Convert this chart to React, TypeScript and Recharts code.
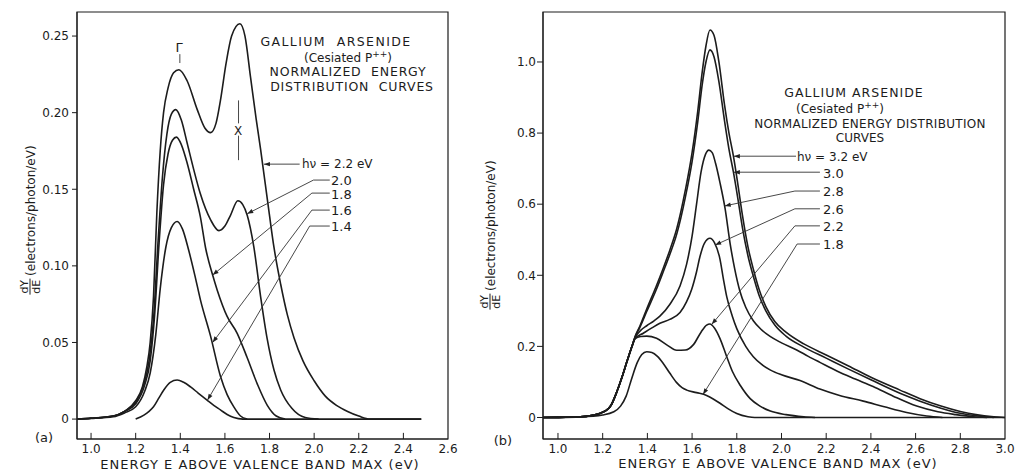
import React from "react";
import { LineChart, Line, XAxis, YAxis, ReferenceArea, ReferenceLine } from "recharts";

type Pt = [number, number];

const FONT = '"DejaVu Sans", "Liberation Sans", sans-serif';
const INK = "#1c1c1c";

// ---------- panel (a): hv = 2.2 ... 1.4 eV, [E (eV), dY/dE] ----------
const A_X_DOMAIN: [number, number] = [0.937, 2.6];
const A_Y_DOMAIN: [number, number] = [-0.013, 0.2657];
const A_X_TICKS = [1.0, 1.2, 1.4, 1.6, 1.8, 2.0, 2.2, 2.4, 2.6];
const A_Y_TICKS = [0, 0.05, 0.1, 0.15, 0.2, 0.25];

const A_22: Pt[] = [
  [0.937, 0], [1.0, 0.0006], [1.1, 0.002], [1.15, 0.005], [1.2, 0.012], [1.23, 0.021],
  [1.25, 0.034], [1.265, 0.05], [1.28, 0.08], [1.295, 0.135], [1.31, 0.175], [1.325, 0.2],
  [1.345, 0.216], [1.37, 0.226], [1.394, 0.228], [1.43, 0.221], [1.476, 0.202], [1.51, 0.19],
  [1.536, 0.187], [1.56, 0.193], [1.58, 0.208], [1.605, 0.232], [1.63, 0.25], [1.667, 0.258],
  [1.69, 0.25], [1.715, 0.223], [1.74, 0.196], [1.76, 0.176], [1.797, 0.136], [1.82, 0.112],
  [1.85, 0.088], [1.88, 0.068], [1.91, 0.053], [1.95, 0.038], [2.0, 0.025], [2.05, 0.015],
  [2.1, 0.009], [2.15, 0.005], [2.2, 0.002], [2.25, 0], [2.48, 0],
];
const A_20: Pt[] = [
  [0.937, 0], [1.0, 0.0005], [1.1, 0.002], [1.15, 0.005], [1.2, 0.011], [1.235, 0.022],
  [1.26, 0.038], [1.28, 0.065], [1.3, 0.115], [1.32, 0.158], [1.34, 0.186], [1.36, 0.199],
  [1.38, 0.202], [1.405, 0.195], [1.431, 0.18], [1.46, 0.163], [1.49, 0.147], [1.536, 0.13],
  [1.573, 0.123], [1.6, 0.126], [1.625, 0.133], [1.658, 0.1425], [1.68, 0.14], [1.7, 0.133],
  [1.73, 0.112], [1.76, 0.08], [1.79, 0.052], [1.82, 0.032], [1.85, 0.019], [1.9, 0.007],
  [1.96, 0.001], [2.02, 0],
];
const A_18: Pt[] = [
  [0.937, 0], [1.0, 0.0005], [1.1, 0.002], [1.15, 0.005], [1.2, 0.01], [1.24, 0.022],
  [1.265, 0.038], [1.285, 0.068], [1.305, 0.115], [1.325, 0.153], [1.345, 0.173], [1.365, 0.182],
  [1.383, 0.184], [1.405, 0.179], [1.431, 0.167], [1.46, 0.15], [1.49, 0.132], [1.513, 0.112],
  [1.545, 0.094], [1.566, 0.084], [1.61, 0.067], [1.655, 0.056], [1.7, 0.04], [1.745, 0.023],
  [1.79, 0.009], [1.83, 0.002], [1.87, 0],
];
const A_16: Pt[] = [
  [0.937, 0], [1.0, 0.0004], [1.1, 0.0015], [1.15, 0.004], [1.2, 0.008], [1.24, 0.018],
  [1.265, 0.03], [1.29, 0.055], [1.31, 0.085], [1.335, 0.112], [1.36, 0.125], [1.386, 0.129],
  [1.41, 0.124], [1.438, 0.11], [1.465, 0.094], [1.49, 0.078], [1.536, 0.054], [1.58, 0.028],
  [1.61, 0.016], [1.64, 0.008], [1.67, 0.002], [1.7, 0],
];
const A_14: Pt[] = [
  [1.2, 0], [1.237, 0.0026], [1.26, 0.005], [1.28, 0.008], [1.305, 0.014], [1.326, 0.019],
  [1.355, 0.024], [1.386, 0.0255], [1.415, 0.024], [1.446, 0.021], [1.48, 0.017], [1.52, 0.0124],
  [1.55, 0.009], [1.58, 0.006], [1.61, 0.003], [1.64, 0.001], [1.68, 0], [2.48, 0],
];
const A_CURVES = [A_22, A_20, A_18, A_16, A_14];

// leader lines, label end first, arrow tip last
const A_LEADERS: Pt[][] = [
  [[1.935, 0.1664], [1.775, 0.1664]],
  [[2.07, 0.156], [1.997, 0.156], [1.7, 0.134]],
  [[2.07, 0.1475], [1.99, 0.1475], [1.545, 0.094]],
  [[2.07, 0.1364], [1.99, 0.1364], [1.545, 0.05]],
  [[2.07, 0.126], [1.98, 0.126], [1.522, 0.0124]],
];
const A_LABELS = ["h\u03bd = 2.2 eV", "2.0", "1.8", "1.6", "1.4"];
// peak markers: Gamma tick, X dashes
const A_MARKS: Pt[][] = [
  [[1.398, 0.2382], [1.398, 0.2324]],
  [[1.661, 0.208], [1.661, 0.193]],
  [[1.661, 0.185], [1.661, 0.169]],
];

// ---------- panel (b): hv = 3.2 ... 1.8 eV ----------
const B_X_DOMAIN: [number, number] = [0.933, 3.0];
const B_Y_DOMAIN: [number, number] = [-0.0605, 1.1406];
const B_X_TICKS = [1.0, 1.2, 1.4, 1.6, 1.8, 2.0, 2.2, 2.4, 2.6, 2.8, 3.0];
const B_Y_TICKS = [0, 0.2, 0.4, 0.6, 0.8, 1.0];

const B_FOOT: Pt[] = [
  [0.933, 0], [1.0, 0.0003], [1.1, 0.002], [1.19, 0.012], [1.233, 0.03], [1.265, 0.075],
  [1.29, 0.12], [1.31, 0.16], [1.33, 0.198],
];
const B_32: Pt[] = [
  [1.345, 0.228], [1.367, 0.258], [1.397, 0.305], [1.44, 0.37], [1.471, 0.42], [1.5, 0.47],
  [1.531, 0.53], [1.57, 0.64], [1.6, 0.745], [1.625, 0.86], [1.645, 0.97], [1.662, 1.045],
  [1.68, 1.09], [1.698, 1.075], [1.72, 1.0], [1.745, 0.88], [1.765, 0.8], [1.785, 0.735],
  [1.805, 0.655], [1.825, 0.57], [1.85, 0.48], [1.875, 0.415], [1.9, 0.36], [1.93, 0.312],
  [1.97, 0.27], [2.02, 0.24], [2.1, 0.207], [2.2, 0.176], [2.3, 0.145], [2.4, 0.113],
  [2.53, 0.077], [2.62, 0.053], [2.71, 0.033], [2.8, 0.017], [2.87, 0.008], [2.95, 0.002], [3.0, 0],
];
const B_30: Pt[] = [
  [1.345, 0.226], [1.367, 0.254], [1.397, 0.298], [1.44, 0.36], [1.471, 0.41], [1.5, 0.458],
  [1.531, 0.515], [1.57, 0.62], [1.6, 0.72], [1.625, 0.83], [1.645, 0.935], [1.662, 1.0],
  [1.68, 1.034], [1.698, 1.015], [1.72, 0.945], [1.745, 0.835], [1.765, 0.755], [1.785, 0.69],
  [1.805, 0.615], [1.825, 0.535], [1.85, 0.455], [1.875, 0.395], [1.9, 0.343], [1.93, 0.3],
  [1.97, 0.26], [2.02, 0.229], [2.1, 0.198], [2.2, 0.167], [2.3, 0.136], [2.4, 0.106],
  [2.53, 0.068], [2.62, 0.046], [2.71, 0.027], [2.8, 0.012], [2.88, 0.004], [2.95, 0],
];
const B_28: Pt[] = [
  [1.345, 0.224], [1.37, 0.245], [1.397, 0.258], [1.43, 0.272], [1.456, 0.285], [1.5, 0.318],
  [1.546, 0.37], [1.575, 0.43], [1.6, 0.51], [1.62, 0.6], [1.64, 0.69], [1.66, 0.74],
  [1.675, 0.752], [1.69, 0.745], [1.705, 0.715], [1.725, 0.66], [1.747, 0.59], [1.77, 0.49],
  [1.79, 0.42], [1.814, 0.355], [1.84, 0.31], [1.874, 0.272], [1.91, 0.247], [1.949, 0.228],
  [2.0, 0.21], [2.068, 0.19], [2.12, 0.172], [2.172, 0.155], [2.25, 0.13], [2.33, 0.108],
  [2.41, 0.087], [2.5, 0.06], [2.605, 0.032], [2.7, 0.016], [2.78, 0.008], [2.86, 0.002], [2.92, 0],
];
const B_26: Pt[] = [
  [1.345, 0.222], [1.382, 0.237], [1.42, 0.252], [1.456, 0.265], [1.5, 0.276], [1.546, 0.295],
  [1.575, 0.325], [1.598, 0.36], [1.62, 0.41], [1.635, 0.452], [1.655, 0.49], [1.68, 0.504],
  [1.7, 0.492], [1.725, 0.445], [1.74, 0.39], [1.755, 0.34], [1.78, 0.285], [1.8, 0.25],
  [1.84, 0.2], [1.874, 0.171], [1.91, 0.15], [1.949, 0.134], [2.0, 0.12], [2.083, 0.104],
  [2.172, 0.08], [2.26, 0.062], [2.366, 0.046], [2.46, 0.03], [2.56, 0.014], [2.65, 0.004], [2.72, 0],
];
const B_22: Pt[] = [
  [1.345, 0.222], [1.37, 0.228], [1.397, 0.229], [1.441, 0.223], [1.49, 0.203], [1.531, 0.189],
  [1.57, 0.19], [1.606, 0.205], [1.64, 0.24], [1.665, 0.26], [1.68, 0.263], [1.7, 0.252],
  [1.725, 0.222], [1.755, 0.171], [1.78, 0.13], [1.816, 0.09], [1.86, 0.053], [1.904, 0.032],
  [1.95, 0.018], [2.02, 0.008], [2.1, 0.002], [2.15, 0],
];
const B_18: Pt[] = [
  [0.933, 0], [1.0, 0.0002], [1.1, 0.0015], [1.2, 0.007], [1.25, 0.016], [1.28, 0.032],
  [1.305, 0.06], [1.33, 0.11], [1.355, 0.155], [1.375, 0.177], [1.397, 0.185], [1.42, 0.183],
  [1.445, 0.172], [1.471, 0.152], [1.5, 0.125], [1.531, 0.098], [1.555, 0.084], [1.576, 0.077],
  [1.62, 0.07], [1.665, 0.062], [1.7, 0.05], [1.725, 0.04], [1.76, 0.025], [1.8, 0.011],
  [1.85, 0.002], [1.88, 0], [3.0, 0],
];
const B_CURVES = [
  [...B_FOOT, ...B_32],
  [...B_FOOT, ...B_30],
  [...B_FOOT, ...B_28],
  [...B_FOOT, ...B_26],
  [...B_FOOT, ...B_22],
  B_18,
];

const B_LEADERS: Pt[][] = [
  [[2.065, 0.735], [1.787, 0.735]],
  [[2.172, 0.69], [1.787, 0.69]],
  [[2.172, 0.637], [2.06, 0.637], [1.746, 0.595]],
  [[2.172, 0.587], [2.06, 0.587], [1.703, 0.485]],
  [[2.172, 0.539], [2.06, 0.539], [1.688, 0.262]],
  [[2.172, 0.488], [2.07, 0.488], [1.649, 0.065]],
];
const B_LABELS = ["h\u03bd = 3.2 eV", "3.0", "2.8", "2.6", "2.2", "1.8"];

const rows = (pts: Pt[]) => pts.map(([e, y]) => ({ e, y }));

const segShape = (arrow: boolean, color = "#333", w = 0.9) => (p: any) => {
  const { x1, y1, x2, y2 } = p;
  const dx = x2 - x1;
  const dy = y2 - y1;
  const len = Math.hypot(dx, dy) || 1;
  const ux = dx / len;
  const uy = dy / len;
  const bx = x2 - ux * 6;
  const by = y2 - uy * 6;
  return (
    <g>
      <line x1={x1} y1={y1} x2={x2} y2={y2} stroke={color} strokeWidth={w} />
      {arrow ? (
        <polygon
          points={`${x2},${y2} ${bx - uy * 2.2},${by + ux * 2.2} ${bx + uy * 2.2},${by - ux * 2.2}`}
          fill="#222"
        />
      ) : null}
    </g>
  );
};

function leaderLines(paths: Pt[][], prefix: string, arrows = true) {
  const out: React.ReactElement[] = [];
  paths.forEach((path, i) => {
    for (let k = 0; k < path.length - 1; k++) {
      const last = k === path.length - 2;
      out.push(
        <ReferenceLine
          key={`${prefix}${i}-${k}`}
          segment={[
            { x: path[k][0], y: path[k][1] },
            { x: path[k + 1][0], y: path[k + 1][1] },
          ]}
          shape={segShape(arrows && last)}
          ifOverflow="visible"
        />
      );
    }
  });
  return out;
}

// inward x ticks drawn up from the bottom frame
function innerTicks(ticks: number[], yMin: number, len: number, prefix: string) {
  return ticks.map((t) => (
    <ReferenceLine
      key={`${prefix}${t}`}
      segment={[
        { x: t, y: yMin },
        { x: t, y: yMin + len },
      ]}
      shape={segShape(false, INK, 1)}
      ifOverflow="visible"
    />
  ));
}

const tickStyle = { fill: INK, fontSize: 12, fontFamily: FONT };

function Txt({
  x,
  y,
  children,
  size = 13,
  align = "center",
  spacing = 0,
}: {
  x: number;
  y: number;
  children: React.ReactNode;
  size?: number;
  align?: "center" | "left";
  spacing?: number;
}) {
  return (
    <div
      style={{
        position: "absolute",
        left: x,
        top: y,
        transform: align === "center" ? "translate(-50%,-50%)" : "translate(0,-50%)",
        fontSize: size,
        fontFamily: FONT,
        color: INK,
        whiteSpace: "nowrap",
        letterSpacing: spacing,
        lineHeight: 1,
      }}
    >
      {children}
    </div>
  );
}

function YTitle({ x, y }: { x: number; y: number }) {
  return (
    <div
      style={{
        position: "absolute",
        left: x,
        top: y,
        transform: "translate(-50%,-50%) rotate(-90deg)",
        display: "flex",
        alignItems: "center",
        whiteSpace: "nowrap",
        fontSize: 12,
        fontFamily: FONT,
        color: INK,
      }}
    >
      <span
        style={{
          display: "inline-flex",
          flexDirection: "column",
          alignItems: "center",
          fontSize: 11,
          lineHeight: "11px",
          marginRight: 3,
        }}
      >
        <span style={{ borderBottom: `1px solid ${INK}`, padding: "0 1px" }}>dY</span>
        <span>dE</span>
      </span>
      <span>(electrons/photon/eV)</span>
    </div>
  );
}

const P = () => (
  <>
    P<sup style={{ fontSize: 9 }}>++</sup>
  </>
);

export default function App() {
  return (
    <div
      style={{
        position: "absolute",
        left: 0,
        top: 0,
        width: 1027,
        height: 472,
        background: "#fff",
        overflow: "hidden",
      }}
    >
      {/* panel (a) */}
      <div style={{ position: "absolute", left: 0, top: 0 }}>
        <LineChart width={520} height={472} margin={{ top: 12, right: 72, bottom: 13, left: 17 }}>
          <XAxis
            type="number"
            dataKey="e"
            domain={A_X_DOMAIN}
            ticks={A_X_TICKS}
            allowDataOverflow
            interval={0}
            height={20}
            tickSize={0}
            tickLine={false}
            tickMargin={5}
            stroke={INK}
            tick={tickStyle}
            tickFormatter={(v: number) => v.toFixed(1)}
          />
          <YAxis
            type="number"
            domain={A_Y_DOMAIN}
            ticks={A_Y_TICKS}
            allowDataOverflow
            interval={0}
            width={60}
            tickSize={5}
            tickMargin={3}
            stroke={INK}
            tick={tickStyle}
            tickFormatter={(v: number) => (v === 0 ? "0" : v.toFixed(2))}
          />
          <ReferenceArea
            x1={A_X_DOMAIN[0]}
            x2={A_X_DOMAIN[1]}
            y1={A_Y_DOMAIN[0]}
            y2={A_Y_DOMAIN[1]}
            fill="none"
            stroke={INK}
            strokeWidth={1.2}
            ifOverflow="visible"
          />
          {innerTicks(A_X_TICKS.slice(0, -1), A_Y_DOMAIN[0], 0.004, "at")}
          {A_CURVES.map((c, i) => (
            <Line
              key={`a${i}`}
              data={rows(c)}
              dataKey="y"
              type="monotone"
              stroke={INK}
              strokeWidth={1.6}
              dot={false}
              isAnimationActive={false}
            />
          ))}
          {leaderLines(A_LEADERS, "al")}
          {leaderLines(A_MARKS, "am", false)}
        </LineChart>
      </div>

      {/* panel (b) */}
      <div style={{ position: "absolute", left: 500, top: 0 }}>
        <LineChart width={527} height={472} margin={{ top: 12, right: 22, bottom: 13, left: 3 }}>
          <XAxis
            type="number"
            dataKey="e"
            domain={B_X_DOMAIN}
            ticks={B_X_TICKS}
            allowDataOverflow
            interval={0}
            height={20}
            tickSize={0}
            tickLine={false}
            tickMargin={5}
            stroke={INK}
            tick={tickStyle}
            tickFormatter={(v: number) => v.toFixed(1)}
          />
          <YAxis
            type="number"
            domain={B_Y_DOMAIN}
            ticks={B_Y_TICKS}
            allowDataOverflow
            interval={0}
            width={40}
            tickSize={6}
            tickMargin={1}
            stroke={INK}
            tick={tickStyle}
            tickFormatter={(v: number) => (v === 0 ? "0" : v.toFixed(1))}
          />
          <ReferenceArea
            x1={B_X_DOMAIN[0]}
            x2={B_X_DOMAIN[1]}
            y1={B_Y_DOMAIN[0]}
            y2={B_Y_DOMAIN[1]}
            fill="none"
            stroke={INK}
            strokeWidth={1.2}
            ifOverflow="visible"
          />
          {innerTicks(B_X_TICKS.slice(0, -1), B_Y_DOMAIN[0], 0.017, "bt")}
          {B_CURVES.map((c, i) => (
            <Line
              key={`b${i}`}
              data={rows(c)}
              dataKey="y"
              type="monotone"
              stroke={INK}
              strokeWidth={1.6}
              dot={false}
              isAnimationActive={false}
            />
          ))}
          {leaderLines(B_LEADERS, "bl")}
        </LineChart>
      </div>

      {/* panel (a) text */}
      <YTitle x={30} y={220} />
      <Txt x={44} y={437} size={13}>(a)</Txt>
      <Txt x={260} y={464} size={13} spacing={1}>ENERGY E ABOVE VALENCE BAND MAX (eV)</Txt>
      <Txt x={336} y={42} size={12.5} spacing={1.4}>GALLIUM&nbsp; ARSENIDE</Txt>
      <Txt x={348} y={57} size={12}>(Cesiated <P />)</Txt>
      <Txt x={348} y={72} size={12.5} spacing={0.8}>NORMALIZED&nbsp; ENERGY</Txt>
      <Txt x={352} y={87} size={12.5} spacing={0.8}>DISTRIBUTION&nbsp; CURVES</Txt>
      <Txt x={179} y={47} size={13}>{"\u0393"}</Txt>
      <Txt x={238} y={131} size={12}>X</Txt>
      <Txt x={302} y={164} size={12} align="left">{A_LABELS[0]}</Txt>
      <Txt x={331} y={180} size={13} align="left">{A_LABELS[1]}</Txt>
      <Txt x={331} y={194} size={13} align="left">{A_LABELS[2]}</Txt>
      <Txt x={331} y={210} size={13} align="left">{A_LABELS[3]}</Txt>
      <Txt x={331} y={226} size={13} align="left">{A_LABELS[4]}</Txt>

      {/* panel (b) text */}
      <YTitle x={490} y={235} />
      <Txt x={503} y={440} size={13}>(b)</Txt>
      <Txt x={778} y={463} size={13} spacing={1}>ENERGY E ABOVE VALENCE BAND MAX (eV)</Txt>
      <Txt x={854} y={93} size={12.5} spacing={1}>GALLIUM ARSENIDE</Txt>
      <Txt x={840} y={108} size={12}>(Cesiated <P />)</Txt>
      <Txt x={870} y={124} size={12} spacing={0.3}>NORMALIZED ENERGY DISTRIBUTION</Txt>
      <Txt x={860} y={138} size={12}>CURVES</Txt>
      <Txt x={797} y={157} size={12} align="left">{B_LABELS[0]}</Txt>
      <Txt x={823} y={173} size={13} align="left">{B_LABELS[1]}</Txt>
      <Txt x={823} y={191} size={13} align="left">{B_LABELS[2]}</Txt>
      <Txt x={823} y={209} size={13} align="left">{B_LABELS[3]}</Txt>
      <Txt x={823} y={226} size={13} align="left">{B_LABELS[4]}</Txt>
      <Txt x={823} y={244} size={13} align="left">{B_LABELS[5]}</Txt>
    </div>
  );
}
